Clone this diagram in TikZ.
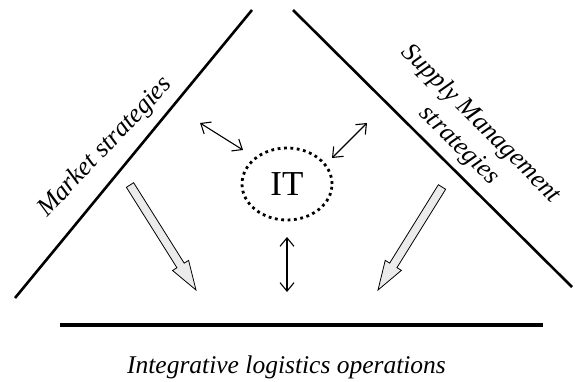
\documentclass[tikz,border=0pt]{standalone}
\usepackage{fontspec}
\setmainfont{Liberation Serif}
\usetikzlibrary{arrows.meta,shapes.geometric,calc}

\tikzset{
  sideline/.style={line width=2.6pt},
  baseline rule/.style={line width=3.8pt},
  lbltext/.style={font=\fontsize{26}{31}\selectfont\itshape, inner sep=0pt},
  bottomtext/.style={font=\fontsize{25.5}{30}\selectfont\itshape, inner sep=0pt},
  duo/.style={{Straight Barb[length=8.5pt,width=14pt]}-{Straight Barb[length=8.5pt,width=14pt]}, line width=1.1pt},
  itnode/.style={ellipse, draw, line width=2.8pt, dash pattern=on 2.8pt off 3.6pt,
    minimum width=90pt, minimum height=72pt, inner sep=0pt,
    font=\fontsize{35}{40}\selectfont},
  blockfill/.style={fill=black!8, draw=black, line width=0.8pt, line join=miter},
}

% gray block arrow from #1 (tail) to #2 (tip)
\newcommand\blockarrow[2]{%
  \path let \p1=(#1), \p2=(#2),
    \n1={atan2(\y2-\y1,\x2-\x1)},
    \n2={veclen(\x2-\x1,\y2-\y1)} in
    \pgfextra{\xdef\baAng{\n1}\xdef\baLen{\n2}};
  \draw[blockfill, shift={(#1)}, rotate=\baAng]
    (0pt,-4.3pt) -- (\baLen-29pt,-4.3pt) -- (\baLen-29pt,-9.5pt)
    -- (\baLen,0pt) -- (\baLen-29pt,9.5pt) -- (\baLen-29pt,4.3pt)
    -- (0pt,4.3pt) -- cycle;
}

\begin{document}
\begin{tikzpicture}[x=1pt,y=-1pt]
\useasboundingbox (0,0) rectangle (575,382);

% triangle sides and base
\coordinate (L1) at (15,298);
\coordinate (L2) at (252,10);
\coordinate (R1) at (293,10);
\coordinate (R2) at (572,287);
\coordinate (B1) at (60,325);
\coordinate (B2) at (543,325);
\draw[sideline] (L1) -- (L2);
\draw[sideline] (R1) -- (R2);
\draw[baseline rule] (B1) -- (B2);

% labels
\node[lbltext, rotate=46.5, anchor=base west] (mkt) at (47,218) {Market strategies};
\node[lbltext, rotate=-44.8, align=center] (sup) at (470,135) {Supply Management\\strategies};
\node[bottomtext, anchor=base] (ops) at (286.5,373) {Integrative logistics operations};

% IT hub
\node[itnode] (it) at (287,184) {IT};

% two-way links
\coordinate (ulA) at (200,123);
\coordinate (ulB) at (243,150);
\coordinate (urA) at (367,123);
\coordinate (urB) at (332,158);
\coordinate (bA) at (287,237);
\coordinate (bB) at (287,292);
\draw[duo] (ulA) -- (ulB);
\draw[duo] (urA) -- (urB);
\draw[duo] (bA) -- (bB);

% flows towards operations
\coordinate (gl1) at (130,185);
\coordinate (gl2) at (196,290);
\coordinate (gr1) at (442,187);
\coordinate (gr2) at (378,290);
\blockarrow{gl1}{gl2}
\blockarrow{gr1}{gr2}
\end{tikzpicture}
\end{document}
